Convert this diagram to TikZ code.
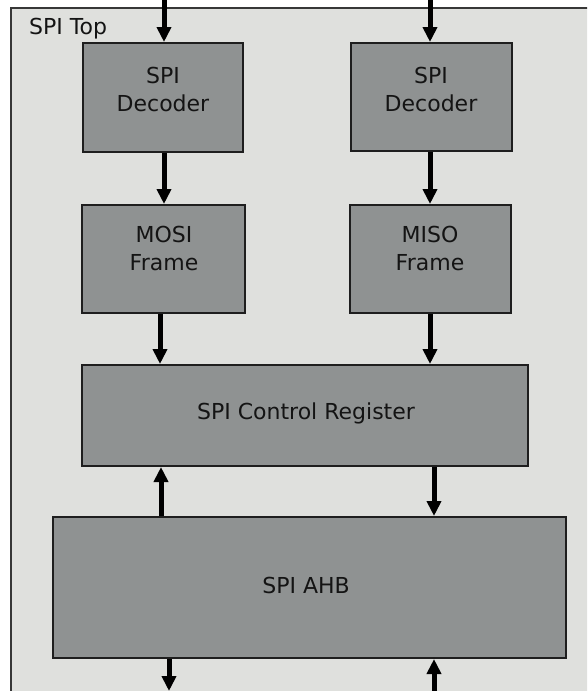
\documentclass[tikz,border=0pt]{standalone}
\usepackage{fontspec}
\setmainfont{DejaVu Sans}
\usetikzlibrary{arrows.meta}

\definecolor{panelfill}{RGB}{223,224,221}
\definecolor{panelline}{RGB}{55,55,55}
\definecolor{blockfill}{RGB}{143,146,146}
\definecolor{blockline}{RGB}{30,30,30}
\definecolor{inkcol}{RGB}{20,20,20}

\tikzset{
  block/.style={draw=blockline, fill=blockfill, line width=2pt, inner sep=0pt},
  blocktext/.style={text=inkcol, align=center, inner sep=0pt,
    font=\fontsize{22}{28}\selectfont},
  flow/.style={line width=5pt, draw=black,
    -{Triangle[length=15pt,width=14pt]}, shorten >=0pt},
}

\begin{document}
\begin{tikzpicture}[x=1pt, y=-1pt]
  \useasboundingbox (0,0) rectangle (587,691);
  \clip (0,0) rectangle (587,691);

  % enclosing module
  \fill[white] (0,0) rectangle (587,691);
  \draw[draw=panelline, fill=panelfill, line width=1.5pt] (11,8) rectangle (620,720);
  \node[blocktext, anchor=west] (toplbl) at (29,28.5) {SPI Top};

  % blocks
  \node[block, minimum width=160pt, minimum height=109pt] (dec1) at (163,97.5) {};
  \node[block, minimum width=161pt, minimum height=108pt] (dec2) at (431.5,97) {};
  \node[block, minimum width=163pt, minimum height=108pt] (mosi) at (163.5,259) {};
  \node[block, minimum width=161pt, minimum height=108pt] (miso) at (430.5,259) {};
  \node[block, minimum width=446pt, minimum height=101pt] (ctrl) at (305,415.5) {};
  \node[block, minimum width=513pt, minimum height=141pt] (ahb) at (309.5,587.5) {};

  % block captions
  \node[blocktext] (dec1t) at (163,89.5) {SPI\\Decoder};
  \node[blocktext] (dec2t) at (431,89.5) {SPI\\Decoder};
  \node[blocktext] (mosit) at (164,248.5) {MOSI\\Frame};
  \node[blocktext] (misot) at (430,248.5) {MISO\\Frame};
  \node[blocktext] (ctrlt) at (306,413.5) {SPI Control Register};
  \node[blocktext] (ahbt) at (306,585) {SPI AHB};

  % external ports
  \coordinate (in1) at (164,-2);
  \coordinate (in2) at (430,-2);
  \coordinate (out1) at (169,691);
  \coordinate (in3) at (434,693);

  % connectors
  \draw[flow] (in1) -- (dec1.north -| in1);
  \draw[flow] (in2) -- (dec2.north -| in2);
  \draw[flow] (dec1.south -| in1) -- (mosi.north -| in1);
  \draw[flow] (dec2.south -| in2) -- (miso.north -| in2);
  \draw[flow] (mosi.south -| 160,0) -- (ctrl.north -| 160,0);
  \draw[flow] (miso.south -| 430,0) -- (ctrl.north -| 430,0);
  \draw[flow] (ahb.north -| 161,0) -- (ctrl.south -| 161,0);
  \draw[flow] (ctrl.south -| 434,0) -- (ahb.north -| 434,0);
  \draw[flow] (ahb.south -| out1) -- (out1);
  \draw[flow] (in3) -- (ahb.south -| in3);
\end{tikzpicture}
\end{document}
